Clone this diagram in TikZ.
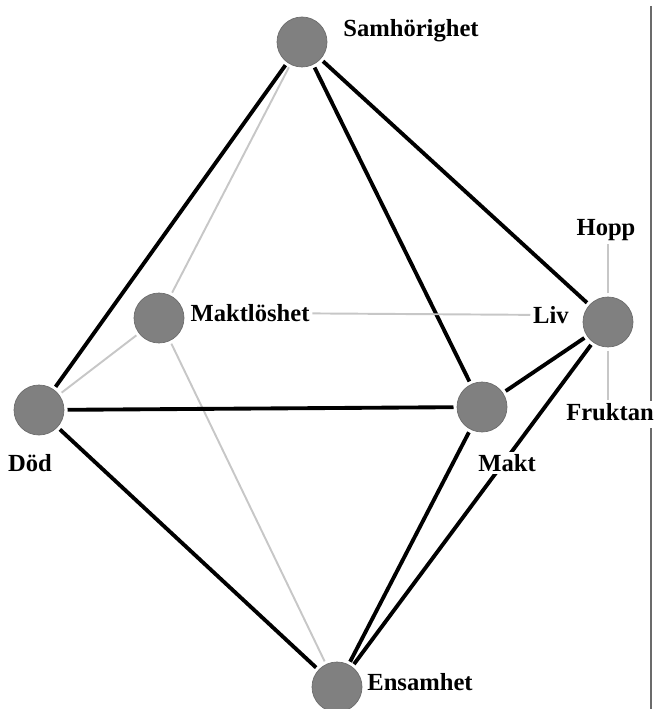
\documentclass[tikz,border=0pt]{standalone}
\usepackage{fontspec}
\setmainfont{Liberation Serif}
\begin{document}
\begin{tikzpicture}[x=0.02cm, y=-0.02cm,
    punkt/.style={circle, fill=gray, draw=gray!85!black, thin, minimum size=1cm, inner sep=0pt, outer sep=2pt},
    stark/.style={black, line width=2.2pt},
    svag/.style={black!22, line width=1.1pt},
    etikett/.style={font=\bfseries\fontsize{14}{16}\selectfont, inner sep=1.5pt, fill=white}]
    \useasboundingbox (0,0) rectangle (654,709);

    % ram till höger
    \draw[black!58, line width=0.9pt] (651,6) -- (651,402);
    \draw[black!58, line width=0.9pt] (651,428) -- (651,709);

    % noder
    \node[punkt] (sam) at (302,42) {};
    \node[punkt] (maktl) at (159,318) {};
    \node[punkt] (dod) at (39,410) {};
    \node[punkt] (makt) at (482,407) {};
    \node[punkt] (liv) at (608,322) {};
    \node[punkt] (ens) at (337,687) {};

    % svaga kanter
    \foreach \a/\b in {sam/maktl, maktl/dod, maktl/ens} {
        \draw[svag] (\a) -- (\b);
    }

    % starka kanter
    \foreach \a/\b in {sam/dod, sam/makt, sam/liv, dod/makt, dod/ens, makt/liv, makt/ens, liv/ens} {
        \draw[stark] (\a) -- (\b);
    }

    % etiketter
    \node[etikett] (samtxt) at (411,31) {Samhörighet};
    \node[etikett] (maktltxt) at (250,313) {Maktlöshet};
    \node[etikett] (dodtxt) at (30,463) {Död};
    \node[etikett] (makttxt) at (507,463) {Makt};
    \node[etikett] (livtxt) at (551,315) {Liv};
    \node[etikett] (hopptxt) at (606,230) {Hopp};
    \node[etikett] (fruktxt) at (610,412) {Fruktan};
    \node[etikett] (enstxt) at (420,682) {Ensamhet};

    \draw[svag] (maktltxt) -- (livtxt);
    \draw[svag] (liv) -- (liv |- hopptxt.south);
    \draw[svag] (liv) -- (liv |- fruktxt.north);
\end{tikzpicture}
\end{document}
